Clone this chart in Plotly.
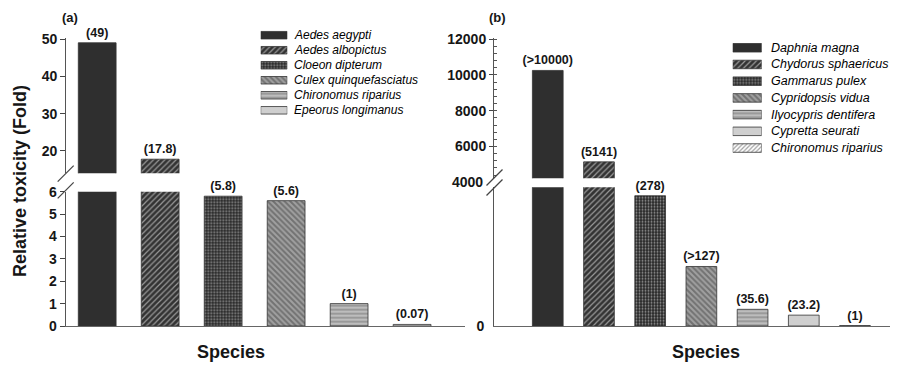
import plotly.graph_objects as go

# page body has an 8px margin, so the figure is sized to the visible area
OFF = 8
W, H = 898 - OFF, 365 - OFF

# ---------------- data ----------------
species_a = ["Aedes aegypti", "Aedes albopictus", "Cloeon dipterum",
             "Culex quinquefasciatus", "Chironomus riparius", "Epeorus longimanus"]
values_a = [49, 17.8, 5.8, 5.6, 1, 0.07]
labels_a = ["(49)", "(17.8)", "(5.8)", "(5.6)", "(1)", "(0.07)"]

species_b = ["Daphnia magna", "Chydorus sphaericus", "Gammarus pulex",
             "Cypridopsis vidua", "Ilyocypris dentifera", "Cypretta seurati",
             "Chironomus riparius"]
values_b = [10250, 5141, 278, 127, 35.6, 23.2, 1]
labels_b = ["(>10000)", "(5141)", "(278)", "(>127)", "(35.6)", "(23.2)", "(1)"]

lower_ticks_a = [0, 1, 2, 3, 4, 5, 6]
upper_ticks_a = [20, 30, 40, 50]
lower_ticks_b = [0]
upper_ticks_b = [6000, 8000, 10000, 12000]
break_tick_b = "4000"

# broken-axis ranges
a_lower = [0, 6]
a_upper = [14.02, 50.2]
b_lower = [0, 296]
b_upper = [4223, 12045]

# ---------------- styles ----------------
SOLID = dict(bg="#2f2f2f", fg="#2f2f2f", shape="", size=4, sol=0.3)
FWD_DARK = dict(bg="#333333", fg="#8a8a8a", shape="/", size=4, sol=0.3)
CHECK = dict(bg="#262626", fg="#909090", shape=".", size=3, sol=0.35)
BACK = dict(bg="#a0a0a0", fg="#363636", shape="\\", size=4, sol=0.5)
HORIZ = dict(bg="#bdbdbd", fg="#484848", shape="-", size=4, sol=0.3)
LIGHT = dict(bg="#cfcfcf", fg="#cfcfcf", shape="", size=4, sol=0.3)
FWD_LIGHT = dict(bg="#ffffff", fg="#8a8a8a", shape="/", size=3, sol=0.4)

styles_a = [SOLID, FWD_DARK, CHECK, BACK, HORIZ, LIGHT]
styles_b = [SOLID, FWD_DARK, CHECK, BACK, HORIZ, LIGHT, FWD_LIGHT]

FONT = "Arial, Liberation Sans, sans-serif"
TXT = "#161616"


def fx(x):
    return (x - OFF) / W


def fy(y):
    return 1 - (y - OFF) / H


def marker(styles):
    return dict(
        color=[s["bg"] for s in styles],
        line=dict(color="#333333", width=0.8),
        pattern=dict(
            shape=[s["shape"] for s in styles],
            fgcolor=[s["fg"] for s in styles],
            bgcolor=[s["bg"] for s in styles],
            size=[s["size"] for s in styles],
            solidity=[s["sol"] for s in styles],
        ),
    )


fig = go.Figure()

bar_text = dict(textposition="outside", cliponaxis=False, constraintext="none",
                texttemplate="<b>%{text}</b>",
                textfont=dict(family=FONT, size=12.5, color=TXT),
                hoverinfo="skip", showlegend=False)

# ---- panel (a) ----
xa = list(range(len(species_a)))
fig.add_trace(go.Bar(
    x=xa, y=values_a, width=0.6, xaxis="x", yaxis="y", marker=marker(styles_a),
    text=[l if v <= a_lower[1] else "" for v, l in zip(values_a, labels_a)], **bar_text))
fig.add_trace(go.Bar(
    x=xa, y=[v if v > a_lower[1] else None for v in values_a], width=0.6,
    xaxis="x", yaxis="y2", marker=marker(styles_a),
    text=[l if v > a_lower[1] else "" for v, l in zip(values_a, labels_a)], **bar_text))

# ---- panel (b) ----
xb = list(range(len(species_b)))
fig.add_trace(go.Bar(
    x=xb, y=values_b, width=0.6, xaxis="x2", yaxis="y4", marker=marker(styles_b),
    text=[l if v <= b_lower[1] else "" for v, l in zip(values_b, labels_b)], **bar_text))
fig.add_trace(go.Bar(
    x=xb, y=[v if v > b_lower[1] else None for v in values_b], width=0.6,
    xaxis="x2", yaxis="y5", marker=marker(styles_b),
    text=[l if v > b_lower[1] else "" for v, l in zip(values_b, labels_b)], **bar_text))

# ---- legend swatches ----
fig.add_trace(go.Bar(
    x=[1] * len(species_a), y=list(range(len(species_a))), base=0, orientation="h",
    width=0.5, xaxis="x3", yaxis="y7", marker=marker(styles_a),
    hoverinfo="skip", showlegend=False))
fig.add_trace(go.Bar(
    x=[1] * len(species_b), y=list(range(len(species_b))), base=0, orientation="h",
    width=0.51, xaxis="x4", yaxis="y8", marker=marker(styles_b),
    hoverinfo="skip", showlegend=False))

tickfont = dict(family=FONT, size=14, color=TXT, weight="bold")
axis_line = dict(showline=True, linecolor="#555555", linewidth=1, showgrid=False,
                 zeroline=False, fixedrange=True)

layout = dict(
    width=W, height=H, margin=dict(l=0, r=0, t=0, b=0, pad=0, autoexpand=False),
    paper_bgcolor="white", plot_bgcolor="rgba(0,0,0,0)",
    showlegend=False, barmode="overlay", font=dict(family=FONT, color=TXT),
    # panel a
    xaxis=dict(domain=[fx(65.7), fx(465)], range=[-0.5, 5.84], anchor="y",
               showticklabels=False, ticks="", showline=True, linecolor="#666666",
               linewidth=1, showgrid=False, zeroline=False, fixedrange=True),
    yaxis=dict(domain=[fy(326), fy(191.7)], range=a_lower, anchor="x",
               tickvals=lower_ticks_a, ticktext=[str(v) for v in lower_ticks_a],
               ticks="outside", ticklen=5, tickcolor="#444",
               tickfont=tickfont, **axis_line),
    yaxis2=dict(domain=[fy(173.3), fy(38.3)], range=a_upper, anchor="x",
                tickvals=upper_ticks_a, ticktext=[str(v) for v in upper_ticks_a],
                ticks="outside", ticklen=4.5, tickcolor="#444",
                tickfont=tickfont, **axis_line),
    yaxis3=dict(overlaying="y2", range=a_upper, anchor="x", tickvals=upper_ticks_a,
                ticks="inside", ticklen=4.5, tickcolor="#444", showticklabels=False,
                showline=False, showgrid=False, zeroline=False, fixedrange=True),
    # panel b
    xaxis2=dict(domain=[fx(494), 1], range=[-1.05, 6.84], anchor="y4",
                showticklabels=False, ticks="", showline=True, linecolor="#666666",
                linewidth=1, showgrid=False, zeroline=False, fixedrange=True),
    yaxis4=dict(domain=[fy(326), fy(187.3)], range=b_lower, anchor="x2",
                tickvals=lower_ticks_b, ticktext=[str(v) for v in lower_ticks_b],
                ticks="outside", ticklen=6,
                tickcolor="rgba(0,0,0,0)", tickfont=tickfont, **axis_line),
    yaxis5=dict(domain=[fy(178.3), fy(38.3)], range=b_upper, anchor="x2",
                tickvals=upper_ticks_b, ticktext=[str(v) for v in upper_ticks_b],
                ticks="outside", ticklen=4, tickcolor="#444",
                tickfont=tickfont,
                minor=dict(ticks="inside", ticklen=3, dtick=400, tickcolor="#555"),
                **axis_line),
    yaxis6=dict(overlaying="y5", range=b_upper, anchor="x2", tickvals=upper_ticks_b,
                ticks="inside", ticklen=4, tickcolor="#444", showticklabels=False,
                showline=False, showgrid=False, zeroline=False, fixedrange=True),
    # legend axes
    xaxis3=dict(domain=[fx(260.7), fx(287.3)], range=[0, 1], anchor="y7", visible=False,
                fixedrange=True),
    yaxis7=dict(domain=[fy(117.8), fy(27.7)], range=[len(species_a) - 0.5, -0.5],
                anchor="x3", visible=False, fixedrange=True),
    xaxis4=dict(domain=[fx(732.7), fx(761.7)], range=[0, 1], anchor="y8", visible=False,
                fixedrange=True),
    yaxis8=dict(domain=[fy(156.4), fy(39.4)], range=[len(species_b) - 0.5, -0.5],
                anchor="x4", visible=False, fixedrange=True),
)
fig.update_layout(**layout)


def note(x, y, text, size, anchor="center", **kw):
    d = dict(x=fx(x), y=fy(y), xref="paper", yref="paper", text=text,
             xanchor=anchor, yanchor="middle", showarrow=False,
             font=dict(family=FONT, size=size, color=TXT))
    d.update(kw)
    return d


ann = []
# legend texts
for i, s in enumerate(species_a):
    ann.append(dict(x=fx(292.3), xref="paper", y=i, yref="y7", text="<i>" + s + "</i>",
                    xanchor="left", yanchor="middle", showarrow=False,
                    font=dict(family=FONT, size=12, color="#000000")))
for i, s in enumerate(species_b):
    ann.append(dict(x=fx(769), xref="paper", y=i, yref="y8", text="<i>" + s + "</i>",
                    xanchor="left", yanchor="middle", showarrow=False,
                    font=dict(family=FONT, size=12.5, color="#000000")))
# break tick label for panel b
ann.append(note(484.5, 182.3, "<b>" + break_tick_b + "</b>", 14, anchor="right"))
# panel labels and titles
ann.append(note(70, 17.5, "<b>(a)</b>", 13))
ann.append(note(497.5, 17.5, "<b>(b)</b>", 13))
ann.append(note(20, 181, "<b>Relative toxicity (Fold)</b>", 18, textangle=-90))
ann.append(note(231, 352, "<b>Species</b>", 18))
ann.append(note(706, 352, "<b>Species</b>", 18))
fig.update_layout(annotations=ann)

# axis-break marks
shapes = []
for (cx, cy) in [(65.7, 173.7), (65.7, 190.3), (494.5, 177.5), (494.5, 187.5)]:
    shapes.append(dict(type="line", xref="paper", yref="paper",
                       x0=fx(cx - 8), y0=fy(cy + 8), x1=fx(cx + 8), y1=fy(cy - 8),
                       line=dict(color="#444444", width=1.2)))
fig.update_layout(shapes=shapes)

fig.write_html("out.html")
